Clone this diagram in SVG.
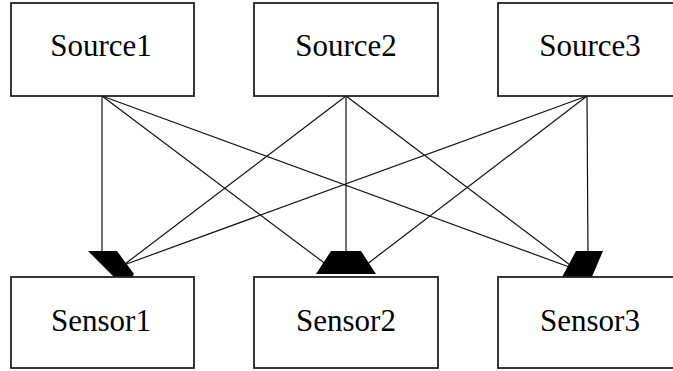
<svg xmlns="http://www.w3.org/2000/svg" width="673" height="371" viewBox="0 0 673 371">
<style>
.box{fill:#fff;stroke:#222;stroke-width:1.8}
.lbl{font-family:"Liberation Serif","Times New Roman",serif;font-size:31px;fill:#000;text-anchor:middle}
.edge{stroke:#111;stroke-width:1.2;fill:none}
.head{fill:#000;stroke:none}
</style>
<rect width="673" height="371" fill="#fff"/>
<g id="connectors">
<line class="edge" x1="102" y1="96" x2="102" y2="258"/>
<line class="edge" x1="102" y1="96" x2="331" y2="268"/>
<line class="edge" x1="102" y1="96" x2="572" y2="268"/>
<line class="edge" x1="346" y1="96" x2="121" y2="267"/>
<line class="edge" x1="346" y1="96" x2="346" y2="258"/>
<line class="edge" x1="346" y1="96" x2="574" y2="268"/>
<line class="edge" x1="587" y1="96" x2="121" y2="266"/>
<line class="edge" x1="587" y1="96" x2="362" y2="268"/>
<line class="edge" x1="587" y1="96" x2="588" y2="258"/>
<polygon class="head" points="88,251 117,251 134,274 131,279 116,279"/>
<polygon class="head" points="331,251 361,251 376,274 316,274"/>
<polygon class="head" points="576,251 603,251 591,279 561,279"/>
</g>
<g id="Source1"><rect class="box" x="11" y="3" width="183" height="93"/><text class="lbl" x="101" y="56">Source1</text></g>
<g id="Source2"><rect class="box" x="254" y="3" width="184" height="93"/><text class="lbl" x="346" y="56">Source2</text></g>
<g id="Source3"><rect class="box" x="498" y="3" width="184" height="93"/><text class="lbl" x="590" y="56">Source3</text></g>
<g id="Sensor1"><rect class="box" x="11" y="277" width="183" height="91"/><text class="lbl" x="101" y="331">Sensor1</text></g>
<g id="Sensor2"><rect class="box" x="254" y="277" width="184" height="91"/><text class="lbl" x="346" y="331">Sensor2</text></g>
<g id="Sensor3"><rect class="box" x="498" y="277" width="184" height="91"/><text class="lbl" x="590" y="331">Sensor3</text></g>
</svg>
